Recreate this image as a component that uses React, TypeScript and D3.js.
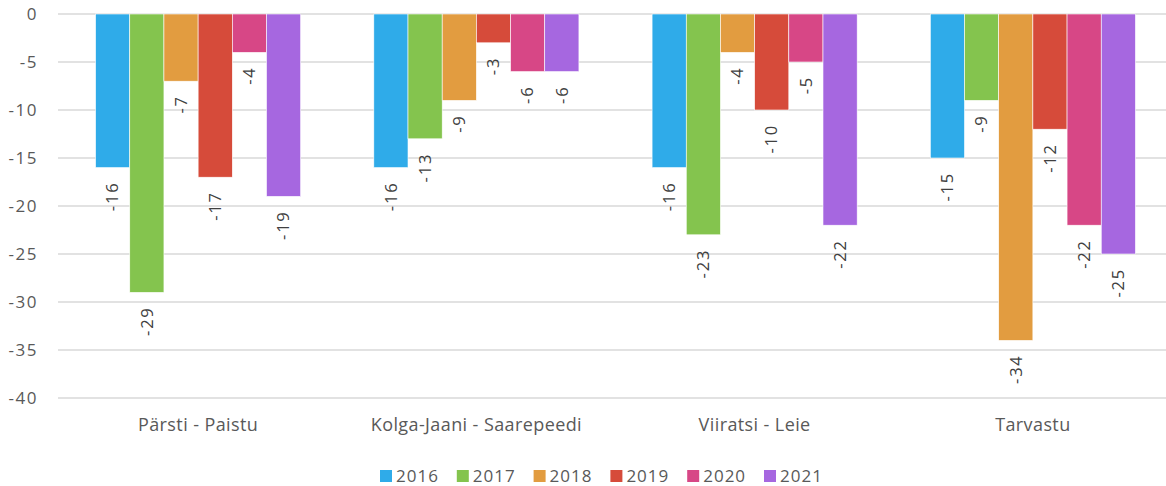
import React from 'react';
import * as d3 from 'd3';

const categories = ['Pärsti - Paistu', 'Kolga-Jaani - Saarepeedi', 'Viiratsi - Leie', 'Tarvastu'];
const years = ['2016', '2017', '2018', '2019', '2020', '2021'];
const colors = ['#2fabe9', '#84c44e', '#e29c40', '#d64b3a', '#d74786', '#a667e0'];
const values2016 = [-16, -16, -16, -15];
const values2017 = [-29, -13, -23, -9];
const values2018 = [-7, -9, -4, -34];
const values2019 = [-17, -3, -10, -12];
const values2020 = [-4, -6, -5, -22];
const values2021 = [-19, -6, -22, -25];
const series = [values2016, values2017, values2018, values2019, values2020, values2021];
const yTicks = [0, -5, -10, -15, -20, -25, -30, -35, -40];

const W = 1166;
const H = 486;
const left = 58;
const right = 1166;
const top = 14;
const bottom = 398;
const font = '"Open Sans", Lato, sans-serif';
const textColor = '#595959';

export default function App() {
  // category bands run a little past the right edge, as in the original
  const x0 = d3.scaleBand().domain(categories).range([59, 1172]);
  const x1 = d3.scaleBand().domain(years).range([0, x0.bandwidth()]).paddingOuter(1.07);
  const y = d3.scaleLinear().domain([0, -40]).range([top, bottom]);

  return (
    <svg width={W} height={H} style={{ position: 'absolute', left: 0, top: 0 }} fontFamily={font}>
      {yTicks.map(t => (
        <g key={t}>
          <line x1={left} x2={right} y1={y(t)} y2={y(t)} stroke="#d9d9d9" strokeWidth={1.5} />
          <text x={38} y={y(t)} dy="0.35em" textAnchor="end" fontSize={17} letterSpacing={1.5} fill={textColor}>{t}</text>
        </g>
      ))}
      {categories.map((c, ci) => (
        <g key={c}>
          {years.map((yr, si) => {
            const v = series[si][ci];
            const bx = x0(c)! + x1(yr)!;
            const bw = x1.bandwidth();
            return (
              <g key={yr}>
                <rect x={bx} y={y(0)} width={bw} height={y(v) - y(0)} fill={colors[si]} stroke="#fff" strokeWidth={0.6} />
                <text
                  transform={`translate(${bx + bw / 2},${y(v) + 14}) rotate(-90)`}
                  textAnchor="end"
                  dy="0.35em"
                  fontSize={16.5}
                  letterSpacing={1.8}
                  fill="#404040"
                >{v}</text>
              </g>
            );
          })}
          <text x={x0(c)! + x0.bandwidth() / 2} y={431} textAnchor="middle" fontSize={18} letterSpacing={0.4} fill={textColor}>{c}</text>
        </g>
      ))}
      {years.map((yr, i) => {
        const lx = 380 + i * 76.8;
        return (
          <g key={yr}>
            <rect x={lx} y={470} width={12} height={12} fill={colors[i]} />
            <text x={lx + 16} y={482} fontSize={17} letterSpacing={1} fill={textColor}>{yr}</text>
          </g>
        );
      })}
    </svg>
  );
}
